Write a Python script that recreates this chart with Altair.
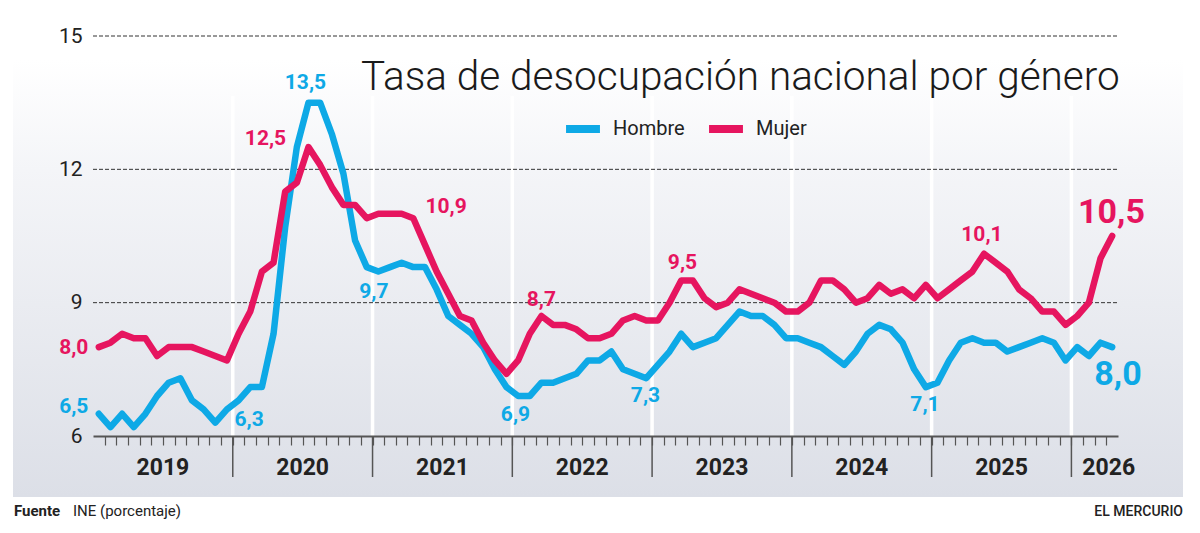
import altair as alt
import pandas as pd

BLUE = "#0ea9e6"
RED = "#e6155f"

# monthly values, Jan 2019 .. Apr 2026 (88 points)
hombre = [6.5, 6.2, 6.5, 6.2, 6.5, 6.9, 7.2, 7.3, 6.8, 6.6, 6.3, 6.6,
          6.8, 7.1, 7.1, 8.3, 10.7, 12.5, 13.5, 13.5, 12.8, 11.9, 10.4, 9.8,
          9.7, 9.8, 9.9, 9.8, 9.8, 9.3, 8.7, 8.5, 8.3, 8.0, 7.5, 7.1,
          6.9, 6.9, 7.2, 7.2, 7.3, 7.4, 7.7, 7.7, 7.9, 7.5, 7.4, 7.3,
          7.6, 7.9, 8.3, 8.0, 8.1, 8.2, 8.5, 8.8, 8.7, 8.7, 8.5, 8.2,
          8.2, 8.1, 8.0, 7.8, 7.6, 7.9, 8.3, 8.5, 8.4, 8.1, 7.5, 7.1,
          7.2, 7.7, 8.1, 8.2, 8.1, 8.1, 7.9, 8.0, 8.1, 8.2, 8.1, 7.7,
          8.0, 7.8, 8.1, 8.0]
mujer = [8.0, 8.1, 8.3, 8.2, 8.2, 7.8, 8.0, 8.0, 8.0, 7.9, 7.8, 7.7,
         8.3, 8.8, 9.7, 9.9, 11.5, 11.7, 12.5, 12.1, 11.6, 11.2, 11.2, 10.9,
         11.0, 11.0, 11.0, 10.9, 10.3, 9.7, 9.2, 8.7, 8.6, 8.1, 7.7, 7.4,
         7.7, 8.3, 8.7, 8.5, 8.5, 8.4, 8.2, 8.2, 8.3, 8.6, 8.7, 8.6,
         8.6, 9.0, 9.5, 9.5, 9.1, 8.9, 9.0, 9.3, 9.2, 9.1, 9.0, 8.8,
         8.8, 9.0, 9.5, 9.5, 9.3, 9.0, 9.1, 9.4, 9.2, 9.3, 9.1, 9.4,
         9.1, 9.3, 9.5, 9.7, 10.1, 9.9, 9.7, 9.3, 9.1, 8.8, 8.8, 8.5,
         8.7, 9.0, 10.0, 10.5]

years = ["2019", "2020", "2021", "2022", "2023", "2024", "2025", "2026"]
year_centers = [6, 18, 30, 42, 54, 66, 78, 87.2]
year_bounds = [12, 24, 36, 48, 60, 72, 84]
grid_values = [9, 12, 15]
y_ticks = [6, 9, 12, 15]

# value labels (text, series, month position, value position, font size)
lab_text = ["8,0", "6,5", "6,3", "13,5", "12,5", "9,7", "10,9", "8,7", "6,9",
            "7,3", "9,5", "10,1", "7,1", "10,5", "8,0"]
lab_serie = ["Mujer", "Hombre", "Hombre", "Hombre", "Mujer", "Hombre", "Mujer", "Mujer",
             "Hombre", "Hombre", "Mujer", "Mujer", "Hombre", "Mujer", "Hombre"]
lab_m = [-1.65, -1.65, 13.4, 18.24, 14.81, 24.12, 30.31, 38.5, 36.27,
         47.43, 50.61, 76.32, 71.43, 87.44, 88.0]
lab_v = [7.99, 6.65, 6.37, 13.94, 12.69, 9.25, 11.16, 9.05, 6.48,
         6.89, 9.9, 10.53, 6.69, 11.02, 7.37]
lab_size = [21, 21, 21, 21, 21, 21, 21, 21, 21, 21, 21, 21, 21, 34, 34]

N = len(hombre)
lines_df = pd.DataFrame({
    "m": [i + 0.5 for i in range(N)] * 2,
    "v": hombre + mujer,
    "serie": ["Hombre"] * N + ["Mujer"] * N,
})
labels_df = pd.DataFrame({
    "m": lab_m, "v": lab_v, "t": lab_text,
    "col": [BLUE if s == "Hombre" else RED for s in lab_serie],
    "fs": lab_size,
})
years_df = pd.DataFrame({"year": years, "m": year_centers})
bounds_df = pd.DataFrame({"m": year_bounds, "v0": [6] * len(year_bounds),
                          "v1": [13.65] * len(year_bounds)})
grid_df = pd.DataFrame({"v": grid_values, "m0": [0] * 3, "m1": [88] * 3})
one = pd.DataFrame({"a": [0]})

W, H = 1025, 400
xs = alt.Scale(domain=[0, 88], nice=False, zero=False)
ys = alt.Scale(domain=[6, 15], nice=False, zero=False)
X_AX = alt.Axis(values=list(range(1, 88)), labels=False, tickSize=9,
                tickColor="#555555", tickWidth=1.2, domainColor="#555555",
                domainWidth=2, grid=False, title=None, zindex=1)
Y_AX = alt.Axis(values=y_ticks, ticks=False, domain=False, grid=False,
                labelFont="Roboto", labelFontSize=21, labelColor="#222222",
                labelPadding=11, title=None, zindex=1)


def X(f):
    return alt.X(f, scale=xs, axis=X_AX, title=None)


def Y(f):
    return alt.Y(f, scale=ys, axis=Y_AX, title=None)


bg = alt.Chart(one).mark_rect(
    fill=alt.Gradient(gradient="linear", x1=0, x2=0, y1=0, y2=1,
                      stops=[alt.GradientStop(color="#ffffff", offset=0),
                             alt.GradientStop(color="#f4f5f8", offset=0.25),
                             alt.GradientStop(color="#dcdfe7", offset=1)])
).encode(x=alt.value(-80), x2=alt.value(1090), y=alt.value(24), y2=alt.value(461))

seps = alt.Chart(bounds_df).mark_rule(color="white", strokeWidth=3.5).encode(
    x=X("m:Q"), y=Y("v0:Q"), y2="v1:Q",
)

grid = alt.Chart(grid_df).mark_rule(color="#333333", strokeWidth=1, strokeDash=[4, 2]).encode(
    x=X("m0:Q"), x2="m1:Q", y=Y("v:Q"),
)

dividers = alt.Chart(bounds_df).mark_rule(color="#555555", strokeWidth=1.5).encode(
    x=X("m:Q"), y=alt.value(H), y2=alt.value(H + 41),
)

lines = alt.Chart(lines_df).mark_line(strokeWidth=6.5, strokeJoin="round", strokeCap="round").encode(
    x=X("m:Q"),
    y=Y("v:Q"),
    color=alt.Color("serie:N",
                    scale=alt.Scale(domain=["Hombre", "Mujer"], range=[BLUE, RED]),
                    legend=alt.Legend(title=None, orient="none", legendX=469, legendY=72,
                                      direction="horizontal", symbolType="stroke",
                                      symbolStrokeWidth=8, symbolSize=1150,
                                      labelFont="Roboto", labelFontSize=20,
                                      labelColor="#222222", labelOffset=9,
                                      columnPadding=8)),
    detail="serie:N",
)

labels = alt.Chart(labels_df).mark_text(font="Roboto", fontWeight="bold", baseline="middle").encode(
    x=X("m:Q"),
    y=Y("v:Q"),
    text="t:N",
    color=alt.Color("col:N", scale=None),
    size=alt.Size("fs:Q", scale=None),
)

year_text = alt.Chart(years_df).mark_text(font="Roboto", fontWeight="bold", fontSize=23,
                                          color="#222222", baseline="middle").encode(
    x=X("m:Q"),
    y=alt.value(432),
    text="year:N",
)

title = alt.Chart(one).mark_text(text="Tasa de desocupación nacional por género", font="Roboto",
                                 fontWeight=300, fontSize=40.5, color="#1a1a1a",
                                 align="left", baseline="alphabetic").encode(
    x=alt.value(268), y=alt.value(54))

fuente = alt.Chart(one).mark_text(text="Fuente", font="Roboto", fontWeight="bold", fontSize=15,
                                  color="#222222", align="left", baseline="alphabetic").encode(
    x=alt.value(-79), y=alt.value(480))
fuente2 = alt.Chart(one).mark_text(text="INE (porcentaje)", font="Roboto", fontSize=15,
                                   color="#222222", align="left", baseline="alphabetic").encode(
    x=alt.value(-20), y=alt.value(480))
merc = alt.Chart(one).mark_text(text="EL MERCURIO", font="Roboto", fontWeight=500, fontSize=14,
                                color="#222222", align="right", baseline="alphabetic").encode(
    x=alt.value(1090), y=alt.value(480))

chart = alt.layer(bg, seps, grid, dividers, lines, labels, year_text, title,
                  fuente, fuente2, merc).properties(
    width=W, height=H,
    autosize=alt.AutoSizeParams(type="none"),
    padding={"left": 85, "top": 28, "right": 73, "bottom": 88},
    background="white",
).configure_view(stroke=None)

chart.save("out.html", embed_options={"renderer": "svg", "actions": False})
